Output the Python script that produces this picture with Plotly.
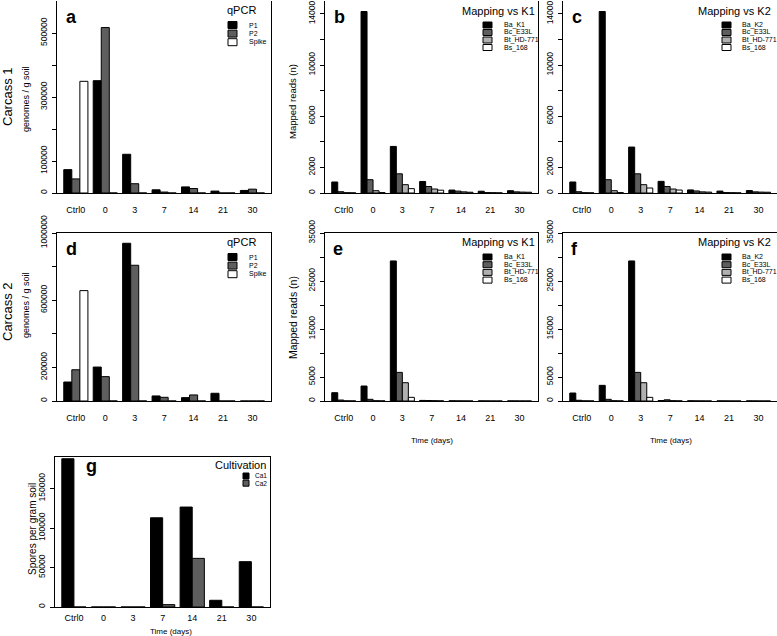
import plotly.graph_objects as go

W, H = 777, 636

# ---------------- datos ----------------
dias = ["Ctrl0", "0", "3", "7", "14", "21", "30"]

# Carcass 1 - qPCR (genomes / g soil)
c1_p1 = [73000, 351000, 121000, 10000, 19000, 6000, 8000]
c1_p2 = [44000, 517000, 29000, 3000, 14000, 0, 12000]
c1_spike = [349000, 0, 0, 0, 0, 0, 0]

# Carcass 1 - mapping vs K1 (reads)
c1k1_ba = [860, 14180, 3640, 900, 230, 140, 180]
c1k1_bc = [100, 1040, 1500, 510, 150, 30, 90]
c1k1_bt = [20, 180, 650, 310, 90, 20, 70]
c1k1_bs = [10, 30, 340, 220, 60, 10, 60]

# Carcass 1 - mapping vs K2 (reads)
c1k2_ba = [860, 14180, 3590, 910, 240, 150, 190]
c1k2_bc = [100, 1040, 1500, 510, 160, 30, 90]
c1k2_bt = [20, 180, 650, 310, 90, 20, 70]
c1k2_bs = [10, 30, 390, 230, 70, 10, 60]

# Carcass 2 - qPCR
c2_p1 = [113000, 202000, 939000, 30000, 20000, 46000, 0]
c2_p2 = [186000, 145000, 808000, 22000, 36000, 0, 0]
c2_spike = [657000, 0, 0, 0, 0, 0, 0]

# Carcass 2 - mapping vs K1
c2k1_ba = [1730, 3120, 29180, 120, 40, 20, 20]
c2k1_bc = [200, 350, 5960, 100, 20, 10, 10]
c2k1_bt = [30, 50, 3810, 60, 10, 0, 0]
c2k1_bs = [10, 20, 760, 30, 0, 0, 0]

# Carcass 2 - mapping vs K2
c2k2_ba = [1660, 3260, 29180, 100, 40, 20, 20]
c2k2_bc = [150, 350, 5960, 250, 20, 10, 10]
c2k2_bt = [30, 50, 3810, 60, 10, 0, 0]
c2k2_bs = [10, 20, 760, 30, 0, 0, 0]

# Cultivation (spores per gram soil)
cult_ca1 = [187800, 0, 0, 113000, 126600, 8500, 57400]
cult_ca2 = [0, 0, 0, 3000, 61600, 0, 0]

# ticks del eje y (R omite algunas etiquetas)
ticks_qpcr1 = [0, 100000, 200000, 300000, 400000, 500000]
etiq_qpcr1 = ["0", "100000", "", "300000", "", "500000"]
ticks_map1 = [0, 2000, 4000, 6000, 8000, 10000, 12000, 14000]
etiq_map1 = ["0", "2000", "", "6000", "", "10000", "", "14000"]
ticks_qpcr2 = [0, 200000, 400000, 600000, 800000, 1000000]
etiq_qpcr2 = ["0", "200000", "", "600000", "", "1000000"]
ticks_map2 = [0, 5000, 10000, 15000, 20000, 25000, 30000, 35000]
etiq_map2 = ["0", "5000", "", "15000", "", "25000", "", "35000"]
ticks_cult = [0, 50000, 100000, 150000]
etiq_cult = ["0", "50000", "100000", "150000"]

NEGRO = "#000000"
GRIS_OSC = "#5e5e5e"
GRIS_CLARO = "#b0b0b0"
BLANCO = "#ffffff"
FUENTE = "Liberation Sans, Arial, sans-serif"


def px(x):
    return x / W


def py(y):
    return 1 - y / H


PANELES = [
    dict(letra="a", caja=(57, 271, 1, 193), ymax=600000, tv=ticks_qpcr1, tt=etiq_qpcr1,
         series=[("P1", c1_p1, NEGRO), ("P2", c1_p2, GRIS_OSC), ("Spike", c1_spike, BLANCO)],
         pos_letra=(71, 17), titulo="qPCR", pos_tit=(258, 10), leg=(228, 25, 8.6, 9, 7, 247, 7),
         x_std=8, arriba=True),
    dict(letra="b", caja=(325, 538, 1, 193), ymax=15000, tv=ticks_map1, tt=etiq_map1,
         series=[("Ba_K1", c1k1_ba, NEGRO), ("Bc_E33L", c1k1_bc, GRIS_OSC),
                 ("Bt_HD-771", c1k1_bt, GRIS_CLARO), ("Bs_168", c1k1_bs, BLANCO)],
         pos_letra=(339, 17), titulo="Mapping vs K1", pos_tit=(537, 11), leg=(483, 25, 7.5, 9, 6, 502, 7),
         x_std=8, arriba=True),
    dict(letra="c", caja=(563, 777, 1, 193), ymax=15000, tv=ticks_map1, tt=etiq_map1,
         series=[("Ba_K2", c1k2_ba, NEGRO), ("Bc_E33L", c1k2_bc, GRIS_OSC),
                 ("Bt_HD-771", c1k2_bt, GRIS_CLARO), ("Bs_168", c1k2_bs, BLANCO)],
         pos_letra=(577, 17), titulo="Mapping vs K2", pos_tit=(773, 11), leg=(722, 25, 7.5, 9, 6, 740, 7),
         x_std=8, arriba=True),
    dict(letra="d", caja=(57, 271, 233, 401), ymax=1000000, tv=ticks_qpcr2, tt=etiq_qpcr2,
         series=[("P1", c2_p1, NEGRO), ("P2", c2_p2, GRIS_OSC), ("Spike", c2_spike, BLANCO)],
         pos_letra=(71, 249), titulo="qPCR", pos_tit=(258, 242), leg=(228, 257, 8.6, 9, 7, 247, 7),
         x_std=8, arriba=False),
    dict(letra="e", caja=(325, 538, 233, 401), ymax=35000, tv=ticks_map2, tt=etiq_map2,
         series=[("Ba_K1", c2k1_ba, NEGRO), ("Bc_E33L", c2k1_bc, GRIS_OSC),
                 ("Bt_HD-771", c2k1_bt, GRIS_CLARO), ("Bs_168", c2k1_bs, BLANCO)],
         pos_letra=(338, 249), titulo="Mapping vs K1", pos_tit=(537, 242), leg=(483, 257, 7.7, 9, 6, 502, 7),
         x_std=8, arriba=False),
    dict(letra="f", caja=(563, 777, 233, 401), ymax=35000, tv=ticks_map2, tt=etiq_map2,
         series=[("Ba_K2", c2k2_ba, NEGRO), ("Bc_E33L", c2k2_bc, GRIS_OSC),
                 ("Bt_HD-771", c2k2_bt, GRIS_CLARO), ("Bs_168", c2k2_bs, BLANCO)],
         pos_letra=(574, 249), titulo="Mapping vs K2", pos_tit=(773, 242), leg=(722, 257, 7.7, 9, 6, 740, 7),
         x_std=8, arriba=False),
    dict(letra="g", caja=(55, 270, 457, 607), ymax=190000, tv=ticks_cult, tt=etiq_cult,
         series=[("Ca1", cult_ca1, NEGRO), ("Ca2", cult_ca2, GRIS_OSC)],
         pos_letra=(91, 466), titulo="Cultivation", pos_tit=(268, 465), leg=(243, 476, 7.2, 6, 6, 253, 6.5),
         x_std=2, arriba=False),
]


def construir_figura() -> go.Figure:
    fig = go.Figure()
    anotaciones = []
    formas = []

    for i, p in enumerate(PANELES, start=1):
        sx = "" if i == 1 else str(i)
        x0, x1, y0, y1 = p["caja"]

        for nombre, valores, color in p["series"]:
            fig.add_trace(
                go.Bar(
                    x=dias,
                    y=valores,
                    name=nombre,
                    marker=dict(color=color, line=dict(color="black", width=1)),
                    xaxis="x" + sx,
                    yaxis="y" + sx,
                    showlegend=False,
                )
            )

        fig.layout["xaxis" + sx] = dict(
            domain=[px(x0), px(x1)],
            anchor="y" + sx,
            type="category",
            range=[-0.64, 6.63],
            showline=True,
            linecolor="black",
            linewidth=1,
            mirror=not p["arriba"],
            ticks="",
            showgrid=False,
            zeroline=False,
            automargin=False,
            tickfont=dict(size=9, color="black", family=FUENTE),
            ticklabelstandoff=p["x_std"],
        )
        fig.layout["yaxis" + sx] = dict(
            domain=[py(y1), py(y0)],
            anchor="x" + sx,
            range=[0, p["ymax"]],
            tickvals=p["tv"],
            ticktext=p["tt"],
            tickangle=-90,
            ticks="outside",
            ticklen=4,
            tickwidth=1,
            tickcolor="black",
            showline=True,
            linecolor="black",
            linewidth=1,
            mirror=True,
            showgrid=False,
            zeroline=False,
            automargin=False,
            tickfont=dict(size=8.5, color="black", family=FUENTE),
            ticklabelstandoff=2,
        )

        # letra del panel
        lx, ly = p["pos_letra"]
        anotaciones.append(dict(
            text="<b>" + p["letra"] + "</b>", x=px(lx), y=py(ly), xref="paper", yref="paper",
            showarrow=False, xanchor="center", yanchor="middle",
            font=dict(size=18, color="black", family=FUENTE),
        ))

        # leyenda dibujada a mano (como legend() de R)
        tx, ty = p["pos_tit"]
        anotaciones.append(dict(
            text=p["titulo"], x=px(tx), y=py(ty), xref="paper", yref="paper",
            showarrow=False, xanchor="right", yanchor="middle",
            font=dict(size=11, color="black", family=FUENTE),
        ))
        sx0, fy0, paso, ancho, alto, xtxt, ftam = p["leg"]
        for k, (nombre, _, color) in enumerate(p["series"]):
            yc = fy0 + k * paso
            formas.append(dict(
                type="rect", xref="paper", yref="paper",
                x0=px(sx0), x1=px(sx0 + ancho), y0=py(yc + alto / 2), y1=py(yc - alto / 2),
                fillcolor=color, line=dict(color="black", width=1),
            ))
            anotaciones.append(dict(
                text=nombre, x=px(xtxt), y=py(yc), xref="paper", yref="paper",
                showarrow=False, xanchor="left", yanchor="middle",
                font=dict(size=ftam, color="black", family=FUENTE),
            ))

    # titulos de ejes
    textos_y = [
        ("Carcass 1", 7, 97, 13),
        ("genomes / g soil", 26, 99, 9),
        ("Carcass 2", 7, 312, 13),
        ("genomes / g soil", 26, 305, 9),
        ("Mapped reads (n)", 293, 102, 9.5),
        ("Mapped reads (n)", 293, 318, 10.5),
        ("Spores per gram soil", 32, 529, 10),
    ]
    for texto, x, y, tam in textos_y:
        anotaciones.append(dict(
            text=texto, x=px(x), y=py(y), xref="paper", yref="paper", textangle=-90,
            showarrow=False, xanchor="center", yanchor="middle",
            font=dict(size=tam, color="black", family=FUENTE),
        ))

    for x, y in [(432, 440), (671, 440), (171, 631)]:
        anotaciones.append(dict(
            text="Time (days)", x=px(x), y=py(y), xref="paper", yref="paper",
            showarrow=False, xanchor="center", yanchor="middle",
            font=dict(size=8, color="black", family=FUENTE),
        ))

    fig.update_layout(
        width=W,
        height=H,
        autosize=False,
        margin=dict(l=0, r=0, t=0, b=0, pad=0),
        paper_bgcolor="white",
        plot_bgcolor="white",
        barmode="group",
        bargap=0.18,
        bargroupgap=0,
        showlegend=False,
        annotations=anotaciones,
        shapes=formas,
        font=dict(family=FUENTE, color="black"),
    )
    return fig


def main():
    fig = construir_figura()
    # la pagina por defecto trae margen de 8px en el body; lo quitamos
    fig.write_html(
        "out.html",
        config={"displayModeBar": False},
        post_script="document.body.style.margin='0';document.body.style.overflow='hidden';",
    )


if __name__ == "__main__":
    main()
